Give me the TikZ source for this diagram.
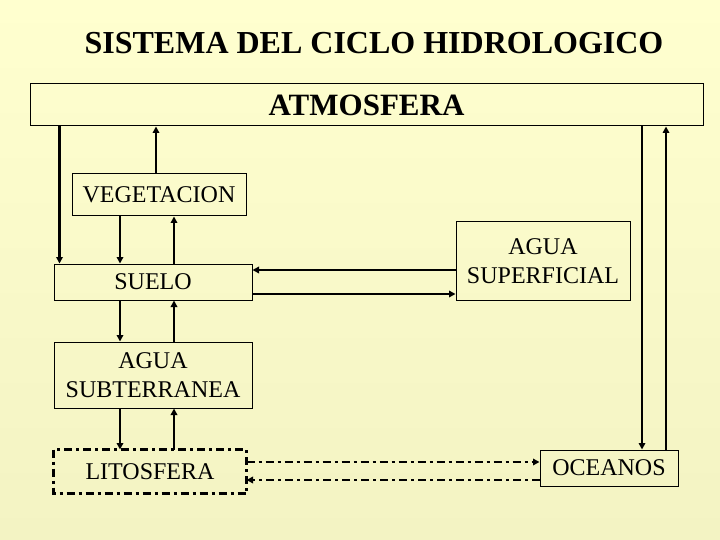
\documentclass[tikz,border=0pt]{standalone}
\usepackage{fontspec}
\setmainfont{Liberation Serif}
\usetikzlibrary{arrows.meta}
\definecolor{fondoA}{HTML}{FFFFCF}
\definecolor{fondoB}{HTML}{F3F3C3}
\begin{document}
\begin{tikzpicture}[x=1pt,y=-1pt,
  caja/.style={draw,line width=1pt,inner sep=0pt,align=center,font=\fontsize{24}{29}\selectfont},
  flecha/.style={line width=2.2pt,-{Triangle[length=6.5pt,width=6.5pt]}},
  raya/.style={line width=2pt,dash pattern=on 8pt off 4pt on 3pt off 4pt,-{Triangle[length=6.5pt,width=6.5pt]}}]
\useasboundingbox (0,0) rectangle (720,540);
\shade[top color=fondoA,bottom color=fondoB] (0,0) rectangle (720,540);
% Titulo
\node[font=\fontsize{32}{36}\selectfont\bfseries] (titulo) at (374,43) {SISTEMA DEL CICLO HIDROLOGICO};
% Cajas
\node[caja,minimum width=673,minimum height=42,font=\fontsize{31}{36}\selectfont\bfseries] (atm) at (366.5,105) {ATMOSFERA};
\node[caja,minimum width=174,minimum height=42] (veg) at (159,195) {VEGETACION};
\node[caja,minimum width=198,minimum height=36] (suelo) at (153,282) {SUELO};
\node[caja,minimum width=174,minimum height=78] (sup) at (543,261) {AGUA\\SUPERFICIAL};
\node[caja,minimum width=198,minimum height=66] (sub) at (153,375) {AGUA\\SUBTERRANEA};
\node[caja,draw=none,minimum width=192,minimum height=43] (lito) at (150,471.5) {LITOSFERA};
\draw[line width=3pt,dash pattern=on 8pt off 4pt on 3pt off 4pt] (lito.north west) rectangle (lito.south east);
\node[caja,minimum width=138,minimum height=36] (oce) at (609,468) {OCEANOS};
% Flechas verticales
\draw[flecha] ([xshift=6pt]suelo.north west |- atm.south) -- ([xshift=6pt]suelo.north west);
\draw[flecha] ([xshift=-3pt]veg.north) -- ([xshift=-3pt]veg.north |- atm.south);
\draw[flecha] ([xshift=-33pt]suelo.north |- veg.south) -- ([xshift=-33pt]suelo.north);
\draw[flecha] ([xshift=21pt]suelo.north) -- ([xshift=21pt]suelo.north |- veg.south);
\draw[flecha] ([xshift=-33pt]suelo.south) -- ([xshift=-33pt]sub.north);
\draw[flecha] ([xshift=21pt]sub.north) -- ([xshift=21pt]suelo.south);
\draw[flecha] ([xshift=-33pt]sub.south) -- ([xshift=-33pt]sub.south |- lito.north);
\draw[flecha] ([xshift=21pt]sub.south |- lito.north) -- ([xshift=21pt]sub.south);
\draw[flecha] ([xshift=33pt]oce.north |- atm.south) -- ([xshift=33pt]oce.north);
\draw[flecha] ([xshift=57pt]oce.north) -- ([xshift=57pt]oce.north |- atm.south);
% Flechas horizontales
\draw[flecha] ([yshift=12pt]suelo.east -| sup.west) -- ([yshift=12pt]suelo.east);
\draw[flecha] ([yshift=-12pt]suelo.east) -- ([yshift=-12pt]suelo.east -| sup.west);
\draw[raya] ([yshift=6pt]lito.east |- oce.west) -- ([yshift=6pt]oce.west);
\draw[raya] ([yshift=-12pt]oce.west) -- ([yshift=-12pt]lito.east |- oce.west);
\end{tikzpicture}
\end{document}
